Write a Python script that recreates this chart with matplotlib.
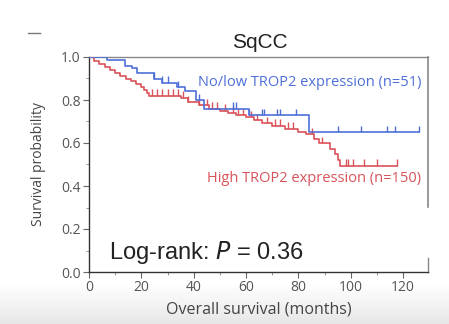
import numpy as np
import matplotlib
matplotlib.use("Agg")
import matplotlib.pyplot as plt
from matplotlib.lines import Line2D

# ---- data ----
blue_times = [0, 7, 13.7, 16.4, 18.3, 25, 28, 33.6, 36.6, 41, 44, 61, 84, 126]
blue_surv = [1.0, 0.985, 0.96, 0.95, 0.925, 0.90, 0.88, 0.86, 0.84, 0.80, 0.76, 0.73, 0.65, 0.65]
blue_censor = [25, 28, 30, 34, 42, 55, 56, 61, 66, 67, 72, 73, 79, 95, 104, 114, 117, 126]

red_times = [0, 2, 4, 6, 8, 10, 12, 14, 16, 18, 20, 21, 22, 23, 35, 38, 42, 46, 50,
             53, 56, 60, 63, 66, 70, 75, 80, 83, 86, 88, 92, 94, 95, 96, 117.5]
red_surv = [1.0, 0.98, 0.967, 0.953, 0.94, 0.927, 0.913, 0.90, 0.887, 0.873, 0.86,
            0.847, 0.833, 0.82, 0.81, 0.79, 0.775, 0.76, 0.75, 0.74, 0.73, 0.72,
            0.707, 0.693, 0.68, 0.667, 0.653, 0.64, 0.62, 0.60, 0.573, 0.55, 0.52,
            0.495, 0.495]
red_censor = [24, 26, 28, 30, 32, 34, 36, 38, 42, 45, 47, 49, 52, 55, 57, 59, 62, 64,
              68, 71, 73, 76, 78, 85, 89, 98, 99, 101, 105, 110, 117.5]

x_ticks = [0, 20, 40, 60, 80, 100, 120]
y_ticks = [0.0, 0.2, 0.4, 0.6, 0.8, 1.0]

title = "SqCC"
blue_label = "No/low TROP2 expression (n=51)"
red_label = "High TROP2 expression (n=150)"
xlabel = "Overall survival (months)"
ylabel = "Survival probability"

BLUE = "#4f6fd8"
RED = "#d9535a"

fig = plt.figure(figsize=(4.49, 3.24), dpi=100)
fig.patch.set_facecolor("white")

# bottom grey gradient band
bg = fig.add_axes([0, 0, 1, 40/324], zorder=-5)
vals = np.linspace(1.0, 0.905, 60)
img = np.repeat(vals.reshape(-1, 1, 1), 3, axis=2)
bg.imshow(img, aspect="auto", extent=[0, 1, 0, 1], interpolation="bilinear")
bg.axis("off")

ax = fig.add_axes([89/449, 1-272/324, (428-89)/449, (272-57)/324])
ax.set_facecolor("none")

def surv_at(times, surv, t):
    idx = np.searchsorted(times, t, side="right") - 1
    return surv[max(idx, 0)]

for times, surv, cens, col, z in [(red_times, red_surv, red_censor, RED, 3),
                                   (blue_times, blue_surv, blue_censor, BLUE, 4)]:
    ax.step(times, surv, where="post", color=col, lw=1.2, zorder=z)
    cs = [surv_at(times, surv, t) for t in cens]
    ax.vlines(cens, cs, np.array(cs) + 0.03, color=col, lw=1.0, zorder=z)

ax.set_xlim(0, 129.5)
ax.set_ylim(0, 1.0)
ax.set_xticks(x_ticks)
ax.set_yticks(y_ticks)
ax.set_xticks(np.arange(10, 130, 20), minor=True)
ax.set_yticks(np.arange(0.1, 1.0, 0.2), minor=True)
ax.set_yticklabels([f"{v:.1f}" for v in y_ticks])
for lab in ax.get_xticklabels() + ax.get_yticklabels():
    lab.set_fontfamily("Open Sans")
    lab.set_fontsize(10)
ax.tick_params(axis="both", which="major", length=4, width=0.8, color="#666666",
               labelcolor="#555555", pad=2)
ax.tick_params(axis="both", which="minor", length=2.5, width=0.6, color="#888888")

ax.spines["left"].set_color("#333333")
ax.spines["bottom"].set_color("#333333")
ax.spines["top"].set_color("#888888")
ax.spines["right"].set_visible(False)
for s in ["left", "bottom", "top"]:
    ax.spines[s].set_linewidth(1.0)
ax.add_line(Line2D([1, 1], [1, (272-207)/215], transform=ax.transAxes, color="#888888",
                   lw=1.2, clip_on=False))
ax.add_line(Line2D([1, 1], [0, (272-258)/215], transform=ax.transAxes, color="#888888",
                   lw=1.0, clip_on=False))

ax.set_xlabel(xlabel, family="Open Sans", fontsize=11.5, color="#444444", labelpad=4.5)
ax.set_ylabel(ylabel, family="Open Sans", fontsize=10, color="#444444", labelpad=11)

fig.text(260/449, 1-42/324, title, family="Liberation Sans", fontsize=15,
         ha="center", va="center", color="#222222")
fig.text(198/449, 1-82/324, blue_label, family="Open Sans", fontsize=10.5,
         ha="left", va="center", color=BLUE)
fig.text(421/449, 1-178/324, red_label, family="Open Sans", fontsize=10.5,
         ha="right", va="center", color=RED)
fig.text(109/449, 1-253/324, "Log-rank: $\\it{P}$ = 0.36", family="Liberation Sans",
         fontsize=17, ha="left", va="center", color="#222222")

fig.add_artist(Line2D([28/449, 40/449], [1-33/324, 1-33/324], color="#777777", lw=1.0))

fig.savefig("out.png", dpi=100)
